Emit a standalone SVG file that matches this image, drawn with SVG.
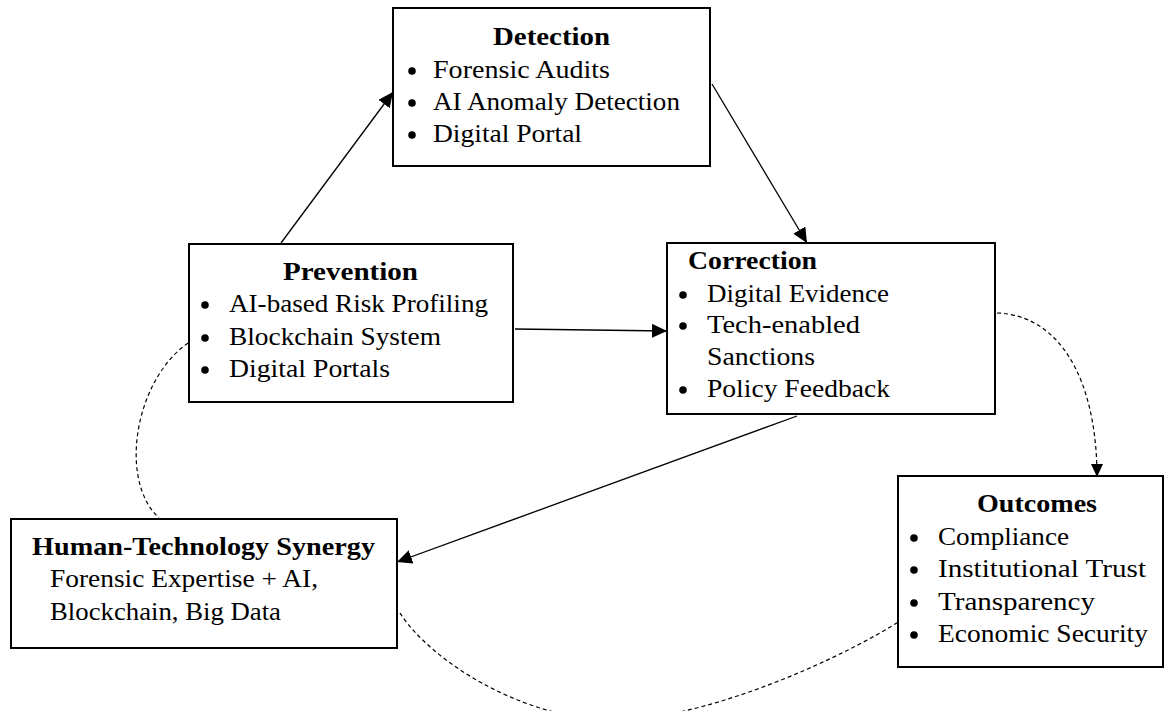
<svg xmlns="http://www.w3.org/2000/svg" width="1171" height="711" viewBox="0 0 1171 711">
<style>
.box{fill:#fff;stroke:#000;stroke-width:2}
.t{font-family:"Liberation Serif","Times New Roman",serif;font-size:25px;fill:#000}
.b{font-weight:bold}
.line{fill:none;stroke:#000;stroke-width:1.3}
.dash{fill:none;stroke:#000;stroke-width:1.2;stroke-dasharray:4 3}
</style>
<defs>
<marker id="arr" markerUnits="userSpaceOnUse" markerWidth="16" markerHeight="14" refX="15" refY="7" orient="auto">
<path d="M0,0 L15,7 L0,14 Z" fill="#000"/>
</marker>
<marker id="arrs" markerUnits="userSpaceOnUse" markerWidth="14" markerHeight="12" refX="13" refY="6" orient="auto">
<path d="M0,0 L13,6 L0,12 Z" fill="#000"/>
</marker>
</defs>
<rect width="1171" height="711" fill="#fff"/>
<g id="connectors">
<line class="line" x1="281" y1="243" x2="393" y2="92" marker-end="url(#arr)"/>
<line class="line" x1="712" y1="84" x2="807" y2="243" marker-end="url(#arr)"/>
<line class="line" x1="515" y1="329" x2="667" y2="331" marker-end="url(#arr)"/>
<line class="line" x1="797" y1="416" x2="397" y2="562" marker-end="url(#arr)"/>
<path class="dash" d="M997,313 C1060,315 1097,380 1097,477" marker-end="url(#arrs)"/>
<path class="dash" d="M188,343 C135,380 118,480 159,518"/>
<path class="dash" d="M400,613 C430,660 520,718 610,720 C700,722 840,660 903,619"/>
</g>
<g id="detection">
<rect class="box" x="393" y="8" width="317" height="158"/>
<text class="t b" x="493" y="45" textLength="117" lengthAdjust="spacingAndGlyphs">Detection</text>
<circle cx="412" cy="71" r="3.8"/><text class="t" x="433" y="78" textLength="177" lengthAdjust="spacingAndGlyphs">Forensic Audits</text>
<circle cx="412" cy="103" r="3.8"/><text class="t" x="433" y="110" textLength="247" lengthAdjust="spacingAndGlyphs">AI Anomaly Detection</text>
<circle cx="412" cy="135" r="3.8"/><text class="t" x="433" y="142" textLength="149" lengthAdjust="spacingAndGlyphs">Digital Portal</text>
</g>
<g id="prevention">
<rect class="box" x="189" y="244" width="324" height="158"/>
<text class="t b" x="283" y="280" textLength="135" lengthAdjust="spacingAndGlyphs">Prevention</text>
<circle cx="205" cy="305" r="3.8"/><text class="t" x="229" y="312" textLength="259" lengthAdjust="spacingAndGlyphs">AI-based Risk Profiling</text>
<circle cx="205" cy="338" r="3.8"/><text class="t" x="229" y="345" textLength="212" lengthAdjust="spacingAndGlyphs">Blockchain System</text>
<circle cx="205" cy="370" r="3.8"/><text class="t" x="229" y="377" textLength="161" lengthAdjust="spacingAndGlyphs">Digital Portals</text>
</g>
<g id="correction">
<rect class="box" x="667" y="243" width="328" height="171"/>
<text class="t b" x="688" y="269" textLength="129" lengthAdjust="spacingAndGlyphs">Correction</text>
<circle cx="683" cy="295" r="3.8"/><text class="t" x="707" y="302" textLength="182" lengthAdjust="spacingAndGlyphs">Digital Evidence</text>
<circle cx="683" cy="326" r="3.8"/><text class="t" x="707" y="333" textLength="153" lengthAdjust="spacingAndGlyphs">Tech-enabled</text>
<text class="t" x="707" y="365" textLength="108" lengthAdjust="spacingAndGlyphs">Sanctions</text>
<circle cx="683" cy="390" r="3.8"/><text class="t" x="707" y="397" textLength="183" lengthAdjust="spacingAndGlyphs">Policy Feedback</text>
</g>
<g id="human-technology">
<rect class="box" x="11" y="519" width="386" height="129"/>
<text class="t b" x="32" y="555" textLength="343" lengthAdjust="spacingAndGlyphs">Human-Technology Synergy</text>
<text class="t" x="50" y="587" textLength="268" lengthAdjust="spacingAndGlyphs">Forensic Expertise + AI,</text>
<text class="t" x="50" y="620" textLength="231" lengthAdjust="spacingAndGlyphs">Blockchain, Big Data</text>
</g>
<g id="outcomes">
<rect class="box" x="898" y="476" width="265" height="191"/>
<text class="t b" x="977" y="512" textLength="120" lengthAdjust="spacingAndGlyphs">Outcomes</text>
<circle cx="914" cy="538" r="3.8"/><text class="t" x="938" y="545" textLength="131" lengthAdjust="spacingAndGlyphs">Compliance</text>
<circle cx="914" cy="570" r="3.8"/><text class="t" x="938" y="577" textLength="208" lengthAdjust="spacingAndGlyphs">Institutional Trust</text>
<circle cx="914" cy="603" r="3.8"/><text class="t" x="938" y="610" textLength="157" lengthAdjust="spacingAndGlyphs">Transparency</text>
<circle cx="914" cy="635" r="3.8"/><text class="t" x="938" y="642" textLength="210" lengthAdjust="spacingAndGlyphs">Economic Security</text>
</g>
</svg>
